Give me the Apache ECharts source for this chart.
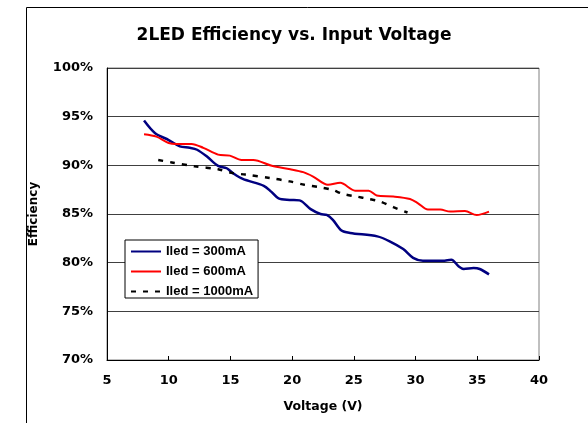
<!DOCTYPE html>
<html>
<head>
<meta charset="utf-8">
<script src="https://cdn.jsdelivr.net/npm/echarts@6/dist/echarts.min.js"></script>
<style>
  html, body { margin: 0; padding: 0; background: #fff; }
  #chart { width: 588px; height: 423px; }
</style>
</head>
<body>
<div id="chart"></div>
<script>
// efficiency curves, voltage in V, efficiency in %
const names = ['Iled = 300mA', 'Iled = 600mA', 'Iled = 1000mA']

const v300 = [8.0, 8.9, 10.0, 10.9, 11.7, 12.3, 13.1, 14.0, 14.7, 15.2, 16.0, 17.7, 18.3, 18.9, 19.8, 20.6, 21.5, 22.3, 22.8, 23.3, 24.0, 24.7, 26.9, 27.9, 29.0, 29.8, 30.6, 32.2, 32.9, 33.5, 33.9, 34.7, 35.2, 35.95]
const e300 = [94.6, 93.3, 92.6, 91.95, 91.8, 91.6, 90.9, 89.95, 89.7, 89.2, 88.6, 87.9, 87.3, 86.6, 86.45, 86.4, 85.5, 85.0, 84.9, 84.4, 83.3, 83.05, 82.7, 82.2, 81.4, 80.5, 80.2, 80.2, 80.3, 79.6, 79.35, 79.45, 79.35, 78.8]

const v600 = [8.0, 9.0, 10.0, 10.65, 11.85, 12.8, 14.0, 14.95, 15.9, 16.85, 18.35, 19.85, 20.9, 21.7, 22.9, 23.9, 25.1, 26.2, 26.85, 28.2, 29.55, 30.2, 31.0, 32.0, 32.8, 34.0, 34.95, 35.95]
const e600 = [93.2, 92.95, 92.3, 92.2, 92.2, 91.8, 91.1, 91.0, 90.55, 90.55, 89.95, 89.6, 89.3, 88.85, 88.0, 88.2, 87.4, 87.4, 86.9, 86.8, 86.55, 86.1, 85.45, 85.45, 85.25, 85.3, 84.9, 85.25]

const v1000 = [9.15, 10.25, 12.1, 14.0, 15.2, 16.2, 18.2, 19.8, 21.0, 22.25, 23.2, 24.15, 25.2, 26.2, 27.1, 28.2, 29.35]
const e1000 = [90.55, 90.3, 89.9, 89.6, 89.2, 89.05, 88.7, 88.35, 88.0, 87.75, 87.5, 87.05, 86.8, 86.55, 86.3, 85.7, 85.15]

const xTicks = { min: 5, max: 40, step: 5 }
const yTicks = { min: 70, max: 100, step: 5 }

const font = 'DejaVu Sans'
const legendFont = 'Liberation Sans'

function pairs(xs, ys) {
  return xs.map((x, i) => [x, ys[i]])
}

const chart = echarts.init(document.getElementById('chart'))

chart.setOption({
  animation: false,
  title: {
    text: '2LED Efficiency vs. Input Voltage',
    left: 'center',
    top: 22,
    textStyle: { fontFamily: font, fontWeight: 'bold', fontSize: 17, color: '#000' }
  },
  graphic: [
    {
      type: 'rect',
      shape: { x: 26.5, y: 7.5, width: 700, height: 600 },
      style: { fill: null, stroke: '#000', lineWidth: 1 },
      silent: true
    }
  ],
  legend: {
    orient: 'vertical',
    left: 125,
    top: 240,
    padding: [5, 5, 0, 5],
    itemWidth: 30,
    itemHeight: 12,
    itemGap: 7,
    borderColor: '#000',
    borderWidth: 1,
    backgroundColor: '#fff',
    itemStyle: { opacity: 0 },
    data: names,
    textStyle: { fontFamily: legendFont, fontWeight: 'bold', fontSize: 13, color: '#000' }
  },
  grid: {
    left: 107,
    top: 68,
    right: 49,
    bottom: 63,
    show: true,
    borderColor: '#808080',
    borderWidth: 1
  },
  xAxis: {
    type: 'value',
    min: xTicks.min,
    max: xTicks.max,
    interval: xTicks.step,
    name: 'Voltage (V)',
    nameLocation: 'middle',
    nameGap: 40,
    nameTextStyle: { fontFamily: font, fontWeight: 'bold', fontSize: 12.5, color: '#000' },
    axisLine: { lineStyle: { color: '#000', width: 1 } },
    axisTick: { inside: true, length: 4, lineStyle: { color: '#000' } },
    axisLabel: { margin: 14, fontFamily: font, fontWeight: 'bold', fontSize: 13, color: '#000' },
    splitLine: { show: false }
  },
  yAxis: {
    type: 'value',
    min: yTicks.min,
    max: yTicks.max,
    interval: yTicks.step,
    name: 'Efficiency',
    nameLocation: 'middle',
    nameGap: 67,
    nameRotate: 90,
    nameTextStyle: { fontFamily: font, fontWeight: 'bold', fontSize: 12, color: '#000' },
    axisLine: { show: true, lineStyle: { color: '#000', width: 1 } },
    axisTick: { show: false },
    axisLabel: { margin: 14, formatter: '{value}%', fontFamily: font, fontWeight: 'bold', fontSize: 13, color: '#000' },
    splitLine: { lineStyle: { color: '#404040', width: 1 } }
  },
  series: [
    {
      name: names[0],
      type: 'line',
      symbol: 'none',
      smooth: 0.3,
      color: '#000080',
      lineStyle: { color: '#000080', width: 2.5 },
      data: pairs(v300, e300)
    },
    {
      name: names[1],
      type: 'line',
      symbol: 'none',
      smooth: 0.3,
      color: '#ff0000',
      lineStyle: { color: '#ff0000', width: 2 },
      data: pairs(v600, e600)
    },
    {
      name: names[2],
      type: 'line',
      symbol: 'none',
      smooth: 0.3,
      color: '#000',
      lineStyle: { color: '#000', width: 2.5, type: [5, 7] },
      data: pairs(v1000, e1000)
    }
  ]
})
</script>
</body>
</html>
